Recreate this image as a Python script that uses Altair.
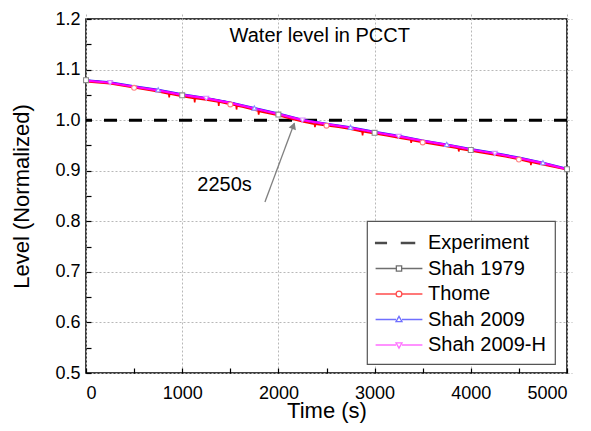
import altair as alt
import pandas as pd

FONT = "Liberation Sans"

# ---------------- data ----------------
series_names = ["Shah 1979", "Thome", "Shah 2009", "Shah 2009-H"]
legend_names = ["Experiment"] + series_names
legend_colors = ["#000000", "#333333", "#ff0000", "#3333ff", "#ff33ff"]
line_colors = ["#000000", "#ff0000", "#1a1aff", "#ff00ff"]
line_widths = [1.6, 1.6, 2.0, 2.2]
marker_strokes = ["#8c8c8c", "#ff8080", "#8c8cff", "#d98cff"]
marker_shapes = ["square", "circle", "triangle-up", "triangle-down"]
marker_rule = ["datum.t % 1000 == 0", "datum.t % 1000 == 500",
               "datum.t % 1000 == 750", "datum.t % 1000 == 250"]

time_250 = [0, 250, 500, 750, 1000, 1250, 1500, 1750, 2000, 2250, 2500,
            2750, 3000, 3250, 3500, 3750, 4000, 4250, 4500, 4750, 5000]
shah1979 = [1.079, 1.074, 1.066, 1.058, 1.049, 1.043, 1.035, 1.022, 1.011, 0.999, 0.991,
            0.984, 0.975, 0.967, 0.958, 0.950, 0.941, 0.933, 0.924, 0.914, 0.903]
shah2009 = [1.079, 1.075, 1.067, 1.060, 1.051, 1.044, 1.035, 1.024, 1.013, 1.001, 0.993,
            0.986, 0.977, 0.969, 0.960, 0.952, 0.943, 0.935, 0.926, 0.916, 0.904]
shah2009h = [1.078, 1.074, 1.066, 1.059, 1.050, 1.043, 1.034, 1.023, 1.012, 1.000, 0.992,
             0.985, 0.976, 0.968, 0.959, 0.951, 0.942, 0.934, 0.925, 0.915, 0.903]

thome_t = [0, 125, 250, 375, 500, 625, 750, 860, 865, 870, 1000, 1125, 1130, 1135, 1250,
           1375, 1380, 1385, 1500, 1560, 1565, 1570, 1625, 1750, 1790, 1795, 1800, 1875,
           2000, 2125, 2250, 2375, 2380, 2385, 2500, 2625, 2750, 2870, 2875, 2880, 3000,
           3125, 3250, 3375, 3380, 3385, 3500, 3625, 3750, 3870, 3875, 3880, 4000, 4125,
           4250, 4375, 4500, 4620, 4625, 4630, 4750, 4875, 5000]
thome_v = [1.076, 1.074, 1.072, 1.068, 1.064, 1.060, 1.056, 1.052, 1.045, 1.052, 1.047,
           1.043, 1.035, 1.043, 1.040, 1.036, 1.028, 1.036, 1.031, 1.029, 1.021, 1.028,
           1.026, 1.020, 1.018, 1.011, 1.017, 1.014, 1.009, 1.003, 0.997, 0.992, 0.986,
           0.992, 0.989, 0.986, 0.982, 0.977, 0.970, 0.977, 0.973, 0.969, 0.965, 0.961,
           0.955, 0.960, 0.956, 0.952, 0.948, 0.944, 0.938, 0.943, 0.939, 0.935, 0.931,
           0.927, 0.922, 0.917, 0.911, 0.917, 0.912, 0.907, 0.902]

experiment_level = 1.0
arrow_t = [1860, 2165]
arrow_v = [0.838, 0.994]
arrow_head_t = [2157]
arrow_head_v = [0.989]
note_t = [1440]
note_v = [0.872]
note_text = ["2250s"]
title_t = [2430]
title_v = [1.1545]
title_text = ["Water level in PCCT"]

x_ticks = [0, 500, 1000, 1500, 2000, 2500, 3000, 3500, 4000, 4500, 5000]
y_ticks = [0.5, 0.55, 0.6, 0.65, 0.7, 0.75, 0.8, 0.85, 0.9, 0.95, 1.0,
           1.05, 1.1, 1.15, 1.2]

legend_paths = [
    "M-1.95,-0.06H-1.05V0.06H-1.95Z M0.2,-0.06H1.3V0.06H0.2Z",
    "M-1.95,0H-0.22 M0.22,0H1.95 M-0.22,-0.22H0.22V0.22H-0.22Z",
    "M-1.95,0H-0.24 M0.24,0H1.95 M-0.24,0A0.24,0.24 0 1,0 0.24,0A0.24,0.24 0 1,0 -0.24,0",
    "M-1.95,0H-0.25 M0.25,0H1.95 M0,-0.26L0.25,0.18L-0.25,0.18Z",
    "M-1.95,0H-0.25 M0.25,0H1.95 M0,0.26L0.25,-0.18L-0.25,-0.18Z",
]

# ---------------- tables ----------------
rows = []
for t, a, b, c in zip(time_250, shah1979, shah2009, shah2009h):
    rows.append({"series": "Shah 1979", "t": t, "v": a})
    rows.append({"series": "Shah 2009", "t": t, "v": b})
    rows.append({"series": "Shah 2009-H", "t": t, "v": c})
for t, v in zip(thome_t, thome_v):
    rows.append({"series": "Thome", "t": t, "v": v})
df = pd.DataFrame(rows)

x_scale = alt.Scale(domain=[0, 5000], nice=False, zero=False)
y_scale = alt.Scale(domain=[0.5, 1.2], nice=False, zero=False)

x_axis = alt.Axis(
    values=x_ticks, title="Time (s)",
    labelExpr="datum.value % 1000 == 0 ? datum.label : ''",
    gridOpacity={"condition": {"test": "datum.value % 1000 != 0", "value": 0}, "value": 1},
    labelPadding=11, titleBaseline="alphabetic", titleY=49, format="d",
)
y_axis = alt.Axis(
    values=y_ticks, title="Level (Normalized)", format=".1f",
    labelExpr="abs(datum.value*10 - round(datum.value*10)) < 0.001 ? datum.label : ''",
    gridOpacity={"condition": {"test": "abs(datum.value*10 - round(datum.value*10)) > 0.001", "value": 0}, "value": 1},
    labelPadding=6, titlePadding=21,
)

X = alt.X("t:Q", scale=x_scale, axis=x_axis)
Y = alt.Y("v:Q", scale=y_scale, axis=y_axis)

layers = []

# experiment reference line
exp_df = pd.DataFrame({"v": [experiment_level]})
layers.append(
    alt.Chart(exp_df).mark_rule(color="black", strokeWidth=3, strokeDash=[13, 12])
    .encode(y=alt.Y("v:Q", scale=y_scale, axis=y_axis))
)

# model lines
for s, col, w in zip(series_names, line_colors, line_widths):
    layers.append(
        alt.Chart(df).transform_filter(f"datum.series == '{s}'")
        .mark_line(strokeWidth=w, color=col)
        .encode(x=X, y=Y, order="t:Q")
    )

# markers
for s, shp, stc, rule in zip(series_names, marker_shapes, marker_strokes, marker_rule):
    layers.append(
        alt.Chart(df).transform_filter(f"datum.series == '{s}' && {rule}")
        .mark_point(shape=shp, filled=True, fill="white", stroke=stc, strokeWidth=1.1,
                    size=24, opacity=1)
        .encode(x=X, y=Y)
    )

# annotation arrow and text
arrow_df = pd.DataFrame({"t": [arrow_t[0]], "v": [arrow_v[0]],
                         "t2": [arrow_t[1]], "v2": [arrow_v[1]]})
layers.append(
    alt.Chart(arrow_df).mark_rule(color="#808080", strokeWidth=1.3)
    .encode(x=X, y=Y, x2="t2:Q", y2="v2:Q")
)
head_df = pd.DataFrame({"t": arrow_head_t, "v": arrow_head_v})
layers.append(
    alt.Chart(head_df).mark_point(shape="triangle-up", filled=True, color="#808080",
                                  size=60, angle=21, opacity=1)
    .encode(x=X, y=Y)
)
note_df = pd.DataFrame({"t": note_t, "v": note_v, "label": note_text})
layers.append(
    alt.Chart(note_df).mark_text(font=FONT, fontSize=20, color="black",
                                 align="center", baseline="middle")
    .encode(x=X, y=Y, text="label:N")
)
title_df = pd.DataFrame({"t": title_t, "v": title_v, "label": title_text})
layers.append(
    alt.Chart(title_df).mark_text(font=FONT, fontSize=20, color="black",
                                  align="center", baseline="alphabetic")
    .encode(x=X, y=Y, text="label:N")
)

# legend carrier (no visible marks)
leg_df = pd.DataFrame({"series": legend_names})
layers.append(
    alt.Chart(leg_df).transform_filter("false")
    .mark_point(filled=False, strokeWidth=1.3)
    .encode(
        color=alt.Color("series:N", scale=alt.Scale(domain=legend_names, range=legend_colors),
                        legend=alt.Legend(
                            title=None, orient="none", legendX=281, legendY=202,
                            labelFont=FONT, labelFontSize=20, labelColor="black",
                            symbolSize=576, symbolStrokeWidth=1.3,
                            symbolFillColor="transparent",
                            symbolOffset=10, labelOffset=16, rowPadding=2.5,
                            padding=9, strokeColor="#555555", fillColor="white",
                            labelLimit=300)),
        shape=alt.Shape("series:N", scale=alt.Scale(domain=legend_names, range=legend_paths),
                        legend=alt.Legend(title=None, orient="none", legendX=281, legendY=202)),
    )
)

chart = (
    alt.layer(*layers)
    .properties(
        width=481, height=354,
        autosize=alt.AutoSizeParams(type="none"),
        padding={"left": 78, "top": 11, "right": 16, "bottom": 50},
    )
    .configure_view(stroke="black", strokeWidth=1.5)
    .configure_axis(
        labelFont=FONT, titleFont=FONT, labelFontSize=18, titleFontSize=22,
        titleFontWeight="normal", labelColor="black", titleColor="black",
        tickColor="black", tickSize=5, tickWidth=1.2, offset=-5, domain=False,
        gridColor="#b8b8b8", gridDash=[2, 2], gridWidth=1,
    )
    .configure_legend(strokeWidth=1.2)
)

chart.save("out.html", embed_options={"renderer": "svg", "actions": False})
